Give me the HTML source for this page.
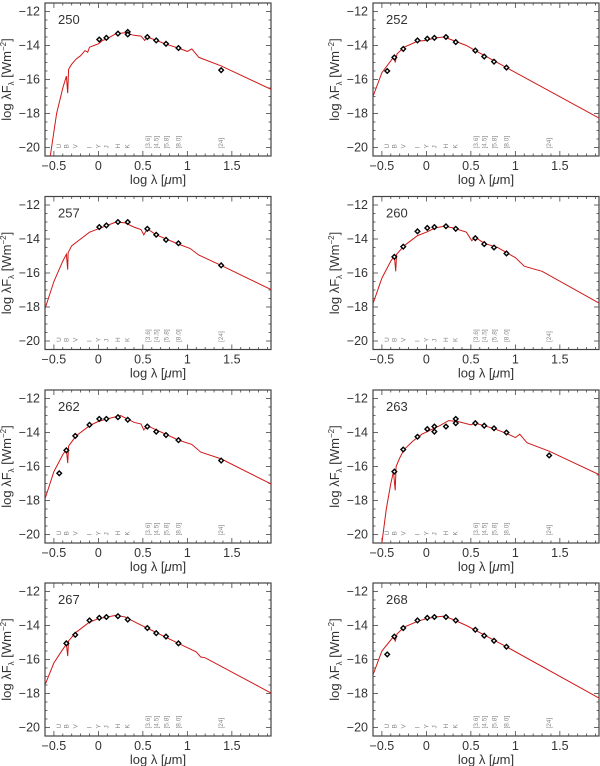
<!DOCTYPE html>
<html><head><meta charset="utf-8"><style>
body{margin:0;background:#fff}
svg{display:block;font-family:"Liberation Sans",sans-serif}
</style></head><body>
<svg id="fig" width="600" height="766" viewBox="0 0 600 766" xmlns="http://www.w3.org/2000/svg"></svg>
<script>
const panelIds = ["250","252","257","260","262","263","267","268"];
const obs250 = [[0.01,-13.65],[0.09,-13.55],[0.22,-13.3],[0.33,-13.2],[0.33,-13.35],[0.55,-13.5],[0.65,-13.7],[0.76,-13.9],[0.9,-14.15],[1.38,-15.45]];
const obs252 = [[-0.44,-15.5],[-0.36,-14.7],[-0.26,-14.2],[-0.1,-13.7],[0.01,-13.6],[0.09,-13.55],[0.22,-13.5],[0.33,-13.8],[0.55,-14.3],[0.65,-14.65],[0.76,-14.95],[0.9,-15.3]];
const obs257 = [[0.01,-13.3],[0.09,-13.2],[0.22,-13.0],[0.33,-13.0],[0.55,-13.4],[0.65,-13.75],[0.76,-14.05],[0.9,-14.25],[1.38,-15.55]];
const obs260 = [[-0.36,-15.05],[-0.26,-14.45],[-0.1,-13.55],[0.01,-13.35],[0.09,-13.3],[0.22,-13.25],[0.33,-13.4],[0.55,-13.95],[0.65,-14.3],[0.76,-14.5],[0.9,-14.85]];
const obs262 = [[-0.44,-16.4],[-0.36,-15.05],[-0.26,-14.2],[-0.1,-13.55],[0.01,-13.2],[0.09,-13.2],[0.22,-13.1],[0.33,-13.25],[0.55,-13.65],[0.65,-13.95],[0.76,-14.15],[0.9,-14.45],[1.38,-15.65]];
const obs263 = [[-0.36,-16.3],[-0.26,-15.0],[-0.1,-14.25],[0.01,-13.8],[0.09,-13.65],[0.09,-13.95],[0.22,-13.65],[0.33,-13.2],[0.33,-13.45],[0.55,-13.45],[0.65,-13.6],[0.76,-13.75],[0.9,-14.0],[1.38,-15.35]];
const obs267 = [[-0.36,-15.05],[-0.26,-14.55],[-0.1,-13.7],[0.01,-13.55],[0.09,-13.5],[0.22,-13.45],[0.33,-13.65],[0.55,-14.15],[0.65,-14.45],[0.76,-14.65],[0.9,-15.05]];
const obs268 = [[-0.44,-15.7],[-0.36,-14.65],[-0.26,-14.15],[-0.1,-13.7],[0.01,-13.55],[0.09,-13.5],[0.22,-13.5],[0.33,-13.7],[0.55,-14.25],[0.65,-14.6],[0.76,-14.9],[0.9,-15.25]];
const model250 = [[-0.54,-20.5],[-0.47,-18],[-0.4,-16.5],[-0.36,-15.8],[-0.345,-16.8],[-0.335,-15.4],[-0.3,-15.1],[-0.25,-14.8],[-0.2,-14.6],[-0.15,-14.3],[-0.12,-14.4],[-0.1,-14.1],[-0.05,-14.0],[0,-13.9],[0.05,-13.7],[0.1,-13.6],[0.15,-13.45],[0.2,-13.3],[0.3,-13.25],[0.4,-13.4],[0.48,-13.45],[0.52,-13.7],[0.55,-13.5],[0.65,-13.7],[0.75,-13.9],[0.9,-14.15],[1.0,-14.35],[1.05,-14.2],[1.13,-14.7],[1.38,-15.2],[1.95,-16.6]];
const model252 = [[-0.6,-17],[-0.5,-15.6],[-0.4,-14.9],[-0.36,-14.6],[-0.35,-15.0],[-0.33,-14.5],[-0.25,-14.1],[-0.1,-13.75],[0,-13.7],[0.1,-13.55],[0.2,-13.5],[0.3,-13.7],[0.45,-14.0],[0.55,-14.3],[0.9,-15.3],[1.95,-18.3]];
const model257 = [[-0.6,-18.1],[-0.5,-16.5],[-0.4,-15.3],[-0.36,-14.9],[-0.345,-15.8],[-0.34,-14.8],[-0.3,-14.4],[-0.2,-14.0],[-0.1,-13.6],[0,-13.4],[0.1,-13.2],[0.2,-13.0],[0.3,-13.05],[0.4,-13.3],[0.48,-13.45],[0.51,-13.75],[0.55,-13.4],[0.65,-13.75],[0.9,-14.3],[1.03,-14.55],[1.13,-14.95],[1.38,-15.55],[1.95,-17.0]];
const model260 = [[-0.6,-17.8],[-0.5,-16.3],[-0.4,-15.3],[-0.36,-15.0],[-0.345,-15.9],[-0.335,-14.9],[-0.25,-14.4],[-0.1,-13.8],[0,-13.6],[0.1,-13.35],[0.2,-13.25],[0.3,-13.35],[0.45,-13.6],[0.51,-14.1],[0.55,-13.9],[0.65,-14.25],[0.8,-14.5],[0.9,-14.8],[1.0,-15.1],[1.1,-15.6],[1.2,-15.75],[1.3,-15.9],[1.95,-17.8]];
const model262 = [[-0.6,-17.9],[-0.5,-16.3],[-0.4,-15.3],[-0.36,-15.0],[-0.345,-15.8],[-0.335,-14.8],[-0.25,-14.2],[-0.1,-13.6],[0,-13.35],[0.1,-13.2],[0.25,-13.0],[0.4,-13.4],[0.48,-13.5],[0.51,-13.85],[0.55,-13.6],[0.9,-14.45],[1.05,-14.7],[1.15,-15.15],[1.38,-15.55],[1.95,-17.05]];
const model263 = [[-0.5,-20.5],[-0.45,-18.5],[-0.4,-17.0],[-0.37,-16.3],[-0.35,-17.4],[-0.34,-16.0],[-0.3,-15.5],[-0.25,-15.0],[-0.15,-14.5],[-0.05,-14.1],[0.05,-13.85],[0.15,-13.6],[0.25,-13.3],[0.35,-13.35],[0.5,-13.55],[0.55,-13.45],[0.75,-13.75],[0.9,-14.05],[1.0,-14.3],[1.05,-14.1],[1.13,-14.6],[1.38,-15.1],[1.95,-16.5]];
const model267 = [[-0.6,-17.5],[-0.5,-16.2],[-0.4,-15.4],[-0.36,-15.1],[-0.345,-15.8],[-0.335,-14.9],[-0.25,-14.4],[-0.1,-13.8],[0,-13.6],[0.1,-13.5],[0.2,-13.4],[0.3,-13.5],[0.45,-13.9],[0.9,-15.05],[1.1,-15.55],[1.15,-15.85],[1.2,-15.9],[1.95,-18.0]];
const model268 = [[-0.6,-16.9],[-0.5,-15.5],[-0.4,-14.85],[-0.36,-14.6],[-0.35,-14.95],[-0.33,-14.5],[-0.25,-14.1],[-0.1,-13.75],[0,-13.6],[0.1,-13.5],[0.2,-13.45],[0.3,-13.65],[0.45,-14.0],[0.9,-15.25],[1.95,-18.3]];
const obsSets = [obs250,obs252,obs257,obs260,obs262,obs263,obs267,obs268];
const modelSets = [model250,model252,model257,model260,model262,model263,model267,model268];
const xTicks = [-0.5,0,0.5,1,1.5];
const xTickLabels = ["\u22120.5","0","0.5","1","1.5"];
const yTicks = [-12,-14,-16,-18,-20];
const yTickLabels = ["\u221212","\u221214","\u221216","\u221218","\u221220"];
const bandX = [-0.44,-0.36,-0.26,-0.1,0.0,0.09,0.22,0.33,0.556,0.653,0.763,0.903,1.38];
const bandNames = ["U","B","V","I","Y","J","H","K","[3.6]","[4.5]","[5.8]","[8.0]","[24]"];

const NS="http://www.w3.org/2000/svg";
const svg=document.getElementById('fig');
function mk(tag,attrs,parent){const e=document.createElementNS(NS,tag);for(const k in attrs)e.setAttribute(k,attrs[k]);(parent||svg).appendChild(e);return e;}
const W=226,H=153,X0=-0.6,X1=1.94,Y0=-20.5,Y1=-11.5;
const colL=[45,373], rowT=[3,196.5,390,583];

panelIds.forEach((id,i)=>{
  const left=colL[i%2], top=rowT[Math.floor(i/2)];
  const sx=v=>left+(v-X0)/(X1-X0)*W;
  const sy=v=>top+(Y1-v)/(Y1-Y0)*H;
  const g=mk('g',{});
  
  
  const cp=mk('clipPath',{id:'cp'+i},g);
  mk('rect',{x:left,y:top,width:W,height:H},cp);
  for(let v=-0.5;v<=1.95;v+=0.1){const x=sx(+v.toFixed(2));const maj=Math.abs(v*2-Math.round(v*2))<1e-6;const L=maj?5:2.5;
    mk('line',{x1:x,y1:top+H,x2:x,y2:top+H-L,stroke:'#444','stroke-width':0.8},g);
    mk('line',{x1:x,y1:top,x2:x,y2:top+L,stroke:'#444','stroke-width':0.8},g);}
  for(let v=-20.5;v<=-11.5;v+=0.5){const y=sy(v);const maj=Math.abs(v/2-Math.round(v/2))<1e-6;const L=maj?5:2.5;
    mk('line',{x1:left,y1:y,x2:left+L,y2:y,stroke:'#444','stroke-width':0.8},g);
    mk('line',{x1:left+W,y1:y,x2:left+W-L,y2:y,stroke:'#444','stroke-width':0.8},g);}
  mk('rect',{x:left,y:top,width:W,height:H,fill:'none',stroke:'#444','stroke-width':1.2},g);
  xTicks.forEach((v,k)=>{const t=mk('text',{x:sx(v),y:top+H+14,'text-anchor':'middle','font-size':12.5,fill:'#333'},g);t.textContent=xTickLabels[k];
    
    });
  yTicks.forEach((v,k)=>{const t=mk('text',{x:left-5,y:sy(v)+4,'text-anchor':'end','font-size':12.5,fill:'#333'},g);t.textContent=yTickLabels[k];
    
    });
  const xl=mk('text',{x:left+W/2,y:top+H+28,'text-anchor':'middle','font-size':13,fill:'#333'},g);
  xl.innerHTML='log λ [<tspan font-style="italic">μ</tspan>m]';
  
  
  const ylx=left-34, yly=top+H/2;
  const yl=mk('text',{x:ylx,y:yly,'text-anchor':'middle','font-size':13,fill:'#333',transform:`rotate(-90 ${ylx} ${yly})`},g);
  yl.innerHTML='log λF<tspan font-size="8" dy="3">λ</tspan><tspan dy="-3"> [Wm</tspan><tspan font-size="8" dy="-5">−2</tspan><tspan dy="5">]</tspan>';
  
  
  const pt=mk('text',{x:left+13,y:top+21,'font-size':13,fill:'#333'},g);pt.textContent=id;
  
  
  bandX.forEach((v,k)=>{const x=sx(v)+2,y=sy(-20)+1;
    const t=mk('text',{x:x,y:y,'font-size':6.5,fill:'#888',transform:`rotate(-90 ${x} ${y})`},g);t.textContent=bandNames[k];
    
    });
  const m=modelSets[i];
  const p=mk('polyline',{points:m.map(q=>sx(q[0]).toFixed(1)+','+sy(q[1]).toFixed(1)).join(' '),fill:'none',stroke:'#d01818','stroke-width':1,'clip-path':`url(#cp${i})`},g);
  
  
  obsSets[i].forEach(q=>{const x=sx(q[0]),y=sy(q[1]),r=2.3;
    const d=mk('polygon',{points:`${x},${y-r} ${x+r},${y} ${x},${y+r} ${x-r},${y}`,fill:'#fff',stroke:'#000','stroke-width':1.4},g);
    
    });
});
</script>
</body></html>
